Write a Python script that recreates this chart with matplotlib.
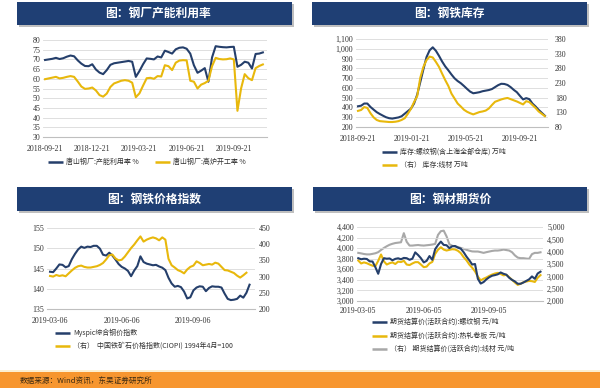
import matplotlib
matplotlib.use('Agg')
import matplotlib.pyplot as plt
import matplotlib.dates as mdates
from matplotlib.patches import Rectangle
from matplotlib.lines import Line2D
from matplotlib.ticker import FuncFormatter, MultipleLocator
import pandas as pd

# ---------------- data ----------------
p1_titles = "图：钢厂产能利用率"
p1_start = "2018-09-21"
p1_ticks = ["2018-09-21", "2018-12-21", "2019-03-21", "2019-06-21", "2019-09-21"]
p1_labels = ["唐山钢厂:产能利用率 %", "唐山钢厂:高炉开工率 %"]
p1_util = [69.7, 70.0, 70.3, 70.8, 70.2, 70.6, 71.4, 72.0, 71.6, 69.5,
           67.8, 66.6, 66.5, 67.5, 64.8, 63.2, 62.4, 64.5, 67.2, 68.0,
           68.3, 68.6, 68.9, 69.2, 68.8, 61.0, 64.0, 67.5, 70.5, 70.3,
           70.0, 71.5, 71.0, 74.5, 73.8, 73.0, 75.2, 76.0, 76.2, 75.5,
           73.0, 67.0, 63.1, 64.2, 65.5, 58.5, 71.0, 76.8, 76.5, 76.3,
           76.2, 76.4, 76.5, 66.2, 67.2, 68.8, 68.3, 65.3, 72.8, 73.0,
           73.6]
p1_blast = [59.8, 60.2, 60.6, 61.0, 60.2, 60.5, 61.0, 61.4, 61.0, 58.6,
            56.0, 54.8, 55.0, 55.5, 54.0, 51.6, 50.8, 52.4, 55.8, 57.6,
            58.3, 59.0, 59.3, 59.0, 58.0, 50.5, 52.5, 56.5, 60.3, 60.5,
            60.0, 61.4, 61.2, 67.0, 66.5, 64.5, 68.3, 69.4, 69.6, 69.5,
            59.0, 58.5, 55.0, 57.0, 57.8, 59.0, 66.5, 70.8, 70.2, 70.0,
            70.1, 70.5, 70.0, 43.5, 55.0, 62.4, 60.3, 59.3, 65.5, 66.6,
            67.4]

p2_title = "图：钢铁库存"
p2_start = "2018-09-21"
p2_ticks = ["2018-09-21", "2019-01-21", "2019-05-21", "2019-09-21"]
p2_labels = ["库存:螺纹钢(含上海全部仓库) 万吨", "（右） 库存:线材 万吨"]
p2_rebar = [412, 418, 440, 440, 405, 378, 352, 333, 316, 300,
            290, 286, 292, 298, 310, 336, 362, 388, 440, 530,
            660, 790, 915, 985, 1015, 980, 928, 870, 820, 780,
            737, 698, 670, 648, 620, 590, 562, 545, 550, 556,
            566, 572, 578, 588, 608, 628, 642, 640, 630, 608,
            580, 556, 518, 482, 495, 485, 440, 410, 375, 345,
            315]
p2_wire = [135, 138, 148, 145, 127, 113, 104, 100, 99, 98,
           97, 97, 98, 100, 104, 110, 125, 142, 165, 185,
           248, 285, 308, 320, 317, 302, 285, 262, 240, 220,
           194, 177, 160, 150, 139, 132, 127, 123, 127, 131,
           133, 136, 143, 155, 166, 170, 174, 177, 179, 175,
           171, 167, 162, 157, 168, 165, 155, 145, 133, 125,
           117]

p3_title = "图：钢铁价格指数"
p3_start = "2019-03-06"
p3_ticks = ["2019-03-06", "2019-06-06", "2019-09-06"]
p3_labels = ["Myspic综合钢价指数", "（右）  中国铁矿石价格指数(CIOPI) 1994年4月=100"]
p3_myspic = [144.2, 144.1, 145.0, 146.0, 145.9, 145.3, 145.6, 147.3, 148.6, 149.7,
             150.4, 150.1, 150.4, 150.3, 150.6, 150.6, 149.9, 148.4, 148.2, 148.9,
             148.2, 147.2, 146.1, 145.4, 145.0, 144.4, 143.1, 144.5, 145.6, 148.0,
             146.6, 146.2, 146.0, 145.8, 145.9, 145.5, 145.2, 144.6, 142.7, 141.3,
             140.5, 140.7, 140.4, 139.3, 137.6, 137.9, 139.6, 140.3, 140.6, 140.5,
             139.4, 140.2, 140.6, 140.5, 140.5, 140.3, 138.8, 137.5, 137.2, 137.3,
             137.5, 138.3, 137.8, 139.0, 141.0]
p3_ciopi = [302, 300, 305, 302, 304, 301, 310, 319, 327, 332,
            334, 330, 328, 328, 330, 332, 336, 342, 353, 366,
            368, 356, 350, 352, 362, 375, 388, 399, 412, 424,
            408, 414, 418, 421, 418, 412, 421, 414, 355, 335,
            328, 320, 316, 310, 322, 330, 334, 347, 342, 335,
            337, 339, 337, 343, 340, 330, 320, 319, 315, 311,
            303, 297, 304, 312]

p4_title = "图：钢材期货价"
p4_start = "2019-03-05"
p4_ticks = ["2019-03-05", "2019-06-05", "2019-09-05"]
p4_labels = ["期货结算价(活跃合约):螺纹钢 元/吨",
             "期货结算价(活跃合约):热轧卷板 元/吨",
             "（右） 期货结算价(活跃合约):线材 元/吨"]
p4_rebar = [3810, 3790, 3800, 3795, 3750, 3747, 3640, 3515, 3700, 3810,
            3800, 3805, 3770, 3797, 3808, 3790, 3815, 3810, 3780, 3800,
            3920, 3870, 3810, 3730, 3760, 3850, 3780, 3980, 4060, 4124,
            4061, 4055, 4000, 4036, 4040, 4010, 3990, 3923, 3840, 3770,
            3690, 3700, 3420, 3330, 3358, 3410, 3450, 3478, 3490, 3505,
            3540, 3515, 3498, 3440, 3400, 3370, 3326, 3326, 3350, 3380,
            3410, 3465, 3420, 3520, 3555]
p4_hrc = [3766, 3710, 3730, 3715, 3690, 3668, 3660, 3760, 3880, 3750,
          3690, 3715, 3730, 3700, 3745, 3737, 3760, 3690, 3680, 3710,
          3735, 3735, 3690, 3640, 3650, 3710, 3740, 3891, 3970, 4017,
          3973, 3955, 3968, 3980, 3975, 3950, 3905, 3829, 3770, 3690,
          3630, 3560, 3460, 3390, 3421, 3445, 3475, 3500, 3520, 3532,
          3512, 3485, 3495, 3450, 3400, 3350, 3305, 3326, 3355, 3368,
          3380, 3375, 3360, 3440, 3490]
p4_wire = [3951, 3930, 3905, 3890, 3890, 3911, 3935, 3980, 4070, 4150,
           4220, 4280, 4320, 4350, 4365, 4381, 4750, 4400, 4247, 4247,
           4260, 4270, 4255, 4247, 4260, 4272, 4290, 4314, 4680, 4830,
           4852, 4620, 4300, 4240, 4210, 4190, 4150, 4112, 4075, 4040,
           4010, 4005, 4005, 3980, 3951, 3980, 4005, 4030, 4045, 4045,
           4060, 4085, 4065, 4045, 3978, 3850, 3760, 3736, 3736, 3720,
           3709, 3900, 3951, 3951, 3975]

source_text = "数据来源：Wind资讯，东吴证券研究所"

# ---------------- style ----------------
W, H = 600, 388
NAVY = "#253F6B"
GOLD = "#E8B80C"
GRAY = "#A8A8A8"
BAR = "#1F3F74"
GRID = "#D9D9D9"
TICKC = "#333333"
CJK = ["Noto Sans CJK SC", "DejaVu Sans"]
SERIF = "Liberation Serif"
TFS = 5.7
LFS = 5.0
LW = 1.5
XPAD = 5.5

fig = plt.figure(figsize=(W / 100, H / 100), dpi=100)
fig.patch.set_facecolor("white")

ov = fig.add_axes([0, 0, 1, 1], zorder=0)
ov.set_xlim(0, W)
ov.set_ylim(H, 0)
ov.axis("off")
ov.patch.set_alpha(0)


def px_axes(l, t, r, b):
    return fig.add_axes([l / W, 1 - b / H, (r - l) / W, (b - t) / H], zorder=2)


def title_bar(x0, x1, y0, y1, text, cx=None):
    ov.add_patch(Rectangle((x0 + 1.5, y0 + 1.5), x1 - x0, y1 - y0,
                           facecolor="#8C8C8C", edgecolor="none", alpha=0.55))
    ov.add_patch(Rectangle((x0, y0), x1 - x0, y1 - y0,
                           facecolor=BAR, edgecolor="none"))
    ov.text((x0 + x1) / 2 if cx is None else cx, (y0 + y1) / 2, text,
            color="white", fontsize=8.5, fontweight="bold", family=CJK,
            ha="center", va="center")


def legend_item(x, y, color, text, lw=LW):
    ov.add_line(Line2D([x, x + 15], [y, y], color=color, lw=lw + 0.3,
                       solid_capstyle="butt"))
    ov.text(x + 18, y, text, fontsize=LFS, family=CJK, color="#333333",
            ha="left", va="center")


def style_axes(ax, twin=None):
    for s in ["top", "right", "left"]:
        ax.spines[s].set_visible(False)
    ax.spines["bottom"].set_color("#BFBFBF")
    ax.spines["bottom"].set_linewidth(0.8)
    ax.grid(axis="y", color=GRID, lw=0.6)
    ax.set_axisbelow(True)
    ax.tick_params(axis="both", length=0, labelsize=TFS, colors=TICKC, pad=2)
    ax.tick_params(axis="x", pad=XPAD)
    for lab in ax.get_xticklabels() + ax.get_yticklabels():
        lab.set_fontfamily(SERIF)
    if twin is not None:
        for s in twin.spines.values():
            s.set_visible(False)
        twin.tick_params(axis="both", length=0, labelsize=TFS, colors=TICKC, pad=3)
        for lab in twin.get_yticklabels():
            lab.set_fontfamily(SERIF)


def set_dates(ax, start, ticks, lo_days, hi_days):
    t0 = pd.Timestamp(start)
    ax.set_xlim(mdates.date2num(t0 + pd.Timedelta(days=lo_days)),
                mdates.date2num(t0 + pd.Timedelta(days=hi_days)))
    ax.set_xticks([mdates.date2num(pd.Timestamp(t)) for t in ticks])
    ax.set_xticklabels(ticks)


comma = FuncFormatter(lambda v, p: f"{int(v):,}")

# ---------------- panel 1 ----------------
title_bar(17, 292, 2, 25, p1_titles, cx=158)
ax1 = px_axes(43, 40, 267, 137)
d1 = pd.date_range(p1_start, periods=len(p1_util), freq="7D")
ax1.plot(d1, p1_util, color=NAVY, lw=LW)
ax1.plot(d1, p1_blast, color=GOLD, lw=LW)
ax1.set_ylim(30, 80)
ax1.yaxis.set_major_locator(MultipleLocator(5))
set_dates(ax1, p1_start, p1_ticks, -4, 428)
style_axes(ax1)
legend_item(48, 162, NAVY, p1_labels[0])
legend_item(155, 162, GOLD, p1_labels[1])

# ---------------- panel 2 ----------------
title_bar(312, 587, 2, 25, p2_title)
ax2 = px_axes(356, 39, 548, 127)
ax2r = ax2.twinx()
d2 = pd.date_range(p2_start, periods=len(p2_rebar), freq="7D")
ax2.plot(d2, p2_rebar, color=NAVY, lw=LW)
ax2r.plot(d2, p2_wire, color=GOLD, lw=LW)
ax2.set_ylim(200, 1100)
ax2.yaxis.set_major_locator(MultipleLocator(100))
ax2.yaxis.set_major_formatter(comma)
ax2r.set_ylim(80, 380)
ax2r.set_yticks(list(range(80, 381, 50)))
set_dates(ax2, p2_start, p2_ticks, -4.5, 427)
style_axes(ax2, ax2r)
ax2r.tick_params(axis="y", pad=5)
legend_item(382, 152, NAVY, p2_labels[0])
legend_item(382, 165, GOLD, p2_labels[1])

# ---------------- panel 3 ----------------
title_bar(17, 292, 187, 211, p3_title)
ax3 = px_axes(47, 228, 255, 309)
ax3r = ax3.twinx()
d3 = pd.date_range(p3_start, periods=len(p3_myspic), freq="4D")
ax3.plot(d3, p3_myspic, color=NAVY, lw=LW)
ax3r.plot(d3[:len(p3_ciopi)], p3_ciopi, color=GOLD, lw=LW)
ax3.set_ylim(135, 155)
ax3.yaxis.set_major_locator(MultipleLocator(5))
ax3r.set_ylim(200, 450)
ax3r.yaxis.set_major_locator(MultipleLocator(50))
set_dates(ax3, p3_start, p3_ticks, -3.9, 263)
style_axes(ax3, ax3r)
legend_item(55, 333, NAVY, p3_labels[0])
legend_item(55, 346, GOLD, p3_labels[1])

# ---------------- panel 4 ----------------
title_bar(313, 587, 187, 211, p4_title)
ax4 = px_axes(357, 227, 543, 301)
ax4r = ax4.twinx()
d4 = pd.date_range(p4_start, periods=len(p4_rebar), freq="4D")
ax4r.plot(d4, p4_wire, color=GRAY, lw=LW)
ax4.plot(d4, p4_hrc, color=GOLD, lw=LW)
ax4.plot(d4, p4_rebar, color=NAVY, lw=LW)
ax4.set_zorder(3)
ax4.patch.set_visible(False)
ax4r.set_zorder(2)
ax4.set_ylim(3000, 4400)
ax4.yaxis.set_major_locator(MultipleLocator(200))
ax4.yaxis.set_major_formatter(comma)
ax4r.set_ylim(2000, 5000)
ax4r.yaxis.set_major_locator(MultipleLocator(500))
ax4r.yaxis.set_major_formatter(comma)
set_dates(ax4, p4_start, p4_ticks, -1.8, 259.5)
style_axes(ax4, ax4r)
ax4.tick_params(axis="x", pad=4.5)
legend_item(372, 322, NAVY, p4_labels[0])
legend_item(372, 336, GOLD, p4_labels[1])
legend_item(372, 349, GRAY, p4_labels[2])

# ---------------- footer ----------------
ov.add_patch(Rectangle((0, 370), W, 2, facecolor="#FCEFD2", edgecolor="none"))
ov.add_patch(Rectangle((0, 372), W, 16, facecolor="#F7962F", edgecolor="none"))
ov.text(20, 380.5, source_text, fontsize=5.5, family=CJK, color="#3B2A12",
        ha="left", va="center")

fig.savefig("out.png", dpi=100, facecolor="white")
